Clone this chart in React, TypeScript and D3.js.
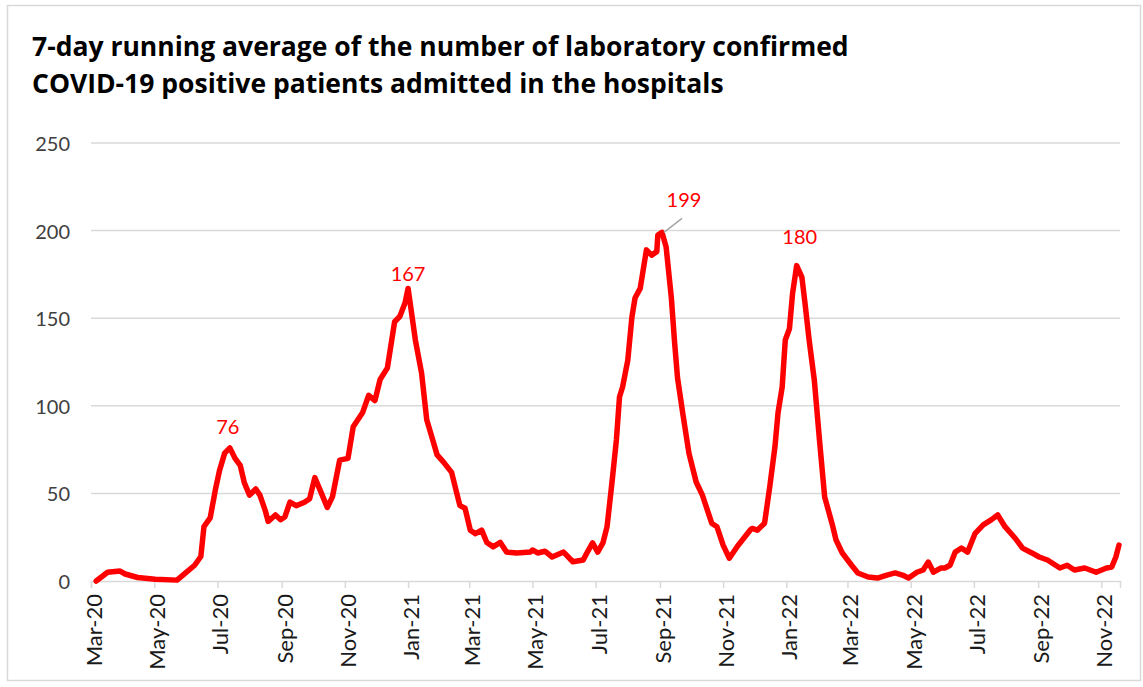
import { useEffect, useRef } from "react"
import * as d3 from "d3"

// 7-day running average
const admissions: Array<[string, number]> = [
  ["2020-03-06", 0], ["2020-03-17", 5], ["2020-03-29", 5.7], ["2020-04-03", 4],
  ["2020-04-15", 2], ["2020-05-02", 1], ["2020-05-23", 0.5], ["2020-05-31", 4.5],
  ["2020-06-09", 9], ["2020-06-15", 14], ["2020-06-18", 31], ["2020-06-24", 36],
  ["2020-06-29", 52], ["2020-07-03", 63], ["2020-07-08", 73], ["2020-07-13", 76],
  ["2020-07-18", 70], ["2020-07-23", 66], ["2020-07-27", 56], ["2020-08-01", 49],
  ["2020-08-07", 52.5], ["2020-08-11", 49], ["2020-08-16", 40.5], ["2020-08-19", 34],
  ["2020-08-26", 37.7], ["2020-08-31", 35], ["2020-09-04", 36.5], ["2020-09-09", 45],
  ["2020-09-15", 43], ["2020-09-23", 45], ["2020-09-28", 47], ["2020-10-03", 59],
  ["2020-10-08", 52], ["2020-10-15", 42], ["2020-10-20", 48], ["2020-10-27", 69],
  ["2020-11-04", 70], ["2020-11-09", 88], ["2020-11-18", 96], ["2020-11-24", 106],
  ["2020-11-30", 103], ["2020-12-05", 115], ["2020-12-12", 121.6], ["2020-12-19", 148],
  ["2020-12-24", 151], ["2020-12-29", 158.7], ["2021-01-01", 167], ["2021-01-08", 137.6],
  ["2021-01-14", 118.7], ["2021-01-19", 92], ["2021-01-24", 82], ["2021-01-29", 72],
  ["2021-02-04", 68], ["2021-02-12", 62], ["2021-02-17", 50], ["2021-02-20", 43],
  ["2021-02-25", 41.5], ["2021-03-02", 29], ["2021-03-07", 27], ["2021-03-13", 29],
  ["2021-03-18", 22], ["2021-03-24", 19.5], ["2021-03-31", 22], ["2021-04-06", 16.5],
  ["2021-04-16", 16], ["2021-04-29", 16.5], ["2021-05-01", 17.7], ["2021-05-06", 16],
  ["2021-05-13", 17], ["2021-05-20", 13.7], ["2021-05-31", 16.5], ["2021-06-09", 11],
  ["2021-06-19", 12], ["2021-06-23", 16.5], ["2021-06-28", 21.7], ["2021-07-03", 16.5],
  ["2021-07-08", 21.7], ["2021-07-12", 31], ["2021-07-17", 57.6], ["2021-07-21", 80.5],
  ["2021-07-24", 105], ["2021-07-27", 110.7], ["2021-08-01", 126], ["2021-08-05", 150.7],
  ["2021-08-08", 161.5], ["2021-08-13", 167], ["2021-08-19", 189], ["2021-08-24", 186],
  ["2021-08-29", 188], ["2021-08-30", 197.5], ["2021-09-03", 199], ["2021-09-07", 190.6],
  ["2021-09-12", 162], ["2021-09-15", 137.5], ["2021-09-18", 116], ["2021-09-23", 96],
  ["2021-09-29", 73], ["2021-10-06", 56.5], ["2021-10-12", 49], ["2021-10-21", 33],
  ["2021-10-26", 31], ["2021-11-01", 20.5], ["2021-11-07", 13], ["2021-11-15", 20],
  ["2021-11-27", 29], ["2021-11-29", 30], ["2021-12-04", 29], ["2021-12-11", 33],
  ["2021-12-16", 53.7], ["2021-12-21", 76.5], ["2021-12-24", 96], ["2021-12-28", 110.7],
  ["2021-12-31", 137.6], ["2022-01-04", 144], ["2022-01-07", 164], ["2022-01-11", 180],
  ["2022-01-16", 173.5], ["2022-01-19", 158.7], ["2022-01-23", 137.6], ["2022-01-28", 114.7],
  ["2022-02-02", 80.5], ["2022-02-07", 48], ["2022-02-14", 33], ["2022-02-18", 23.4],
  ["2022-02-24", 16], ["2022-03-05", 9], ["2022-03-11", 4.6], ["2022-03-21", 2.3],
  ["2022-03-30", 1.7], ["2022-04-08", 3.4], ["2022-04-16", 4.6], ["2022-04-23", 3.4],
  ["2022-04-29", 1.7], ["2022-05-07", 5], ["2022-05-13", 6.3], ["2022-05-18", 10.8],
  ["2022-05-23", 5], ["2022-05-30", 7.4], ["2022-06-03", 7.4], ["2022-06-08", 9],
  ["2022-06-13", 16.5], ["2022-06-19", 18.8], ["2022-06-25", 16.5], ["2022-07-02", 27],
  ["2022-07-10", 32], ["2022-07-18", 35], ["2022-07-24", 37.7], ["2022-07-31", 31],
  ["2022-08-09", 25], ["2022-08-17", 18.8], ["2022-08-26", 16], ["2022-09-02", 13.7],
  ["2022-09-10", 12], ["2022-09-22", 7.4], ["2022-09-29", 9], ["2022-10-06", 6.3],
  ["2022-10-16", 7.4], ["2022-10-27", 5], ["2022-11-06", 7.4], ["2022-11-11", 8],
  ["2022-11-15", 13.7], ["2022-11-18", 20.5],
]

// peak annotations: date of peak and the printed value
const peaks: Array<[string, string]> = [
  ["2020-07-13", "76"],
  ["2021-01-01", "167"],
  ["2021-09-03", "199"],
  ["2022-01-11", "180"],
]

const yTicks = [0, 50, 100, 150, 200, 250]
const xStart = "2020-03-01"
const xEnd = "2022-11-19"

const titleLines = [
  "7-day running average of the number of laboratory confirmed",
  "COVID-19 positive patients admitted in the hospitals",
]

export default function App() {
  const svgRef = useRef<SVGSVGElement>(null)

  useEffect(() => {
    document.body.style.margin = "0"
    if (!svgRef.current) return

    const svg = d3.select(svgRef.current)
    svg.selectAll("*").remove()

    const width = 1143
    const height = 687
    const font = "Lato, 'Open Sans', sans-serif"
    const parse = d3.timeParse("%Y-%m-%d")

    svg.attr("width", width).attr("height", height)

    // chart frame
    svg.append("rect")
      .attr("x", 7.5).attr("y", 5.5)
      .attr("width", 1133).attr("height", 675)
      .style("fill", "white")
      .style("stroke", "#d9d9d9")
      .style("stroke-width", 1.5)

    // title
    svg.append("text")
      .style("font-family", "'Open Sans', Lato, sans-serif")
      .style("font-weight", "700")
      .style("font-size", "26.5px")
      .style("fill", "#000")
      .selectAll("tspan")
      .data(titleLines)
      .join("tspan")
      .attr("x", 32)
      .attr("y", (d, i) => 56 + i * 37)
      .text(d => d)

    const x = d3.scaleTime()
      .domain([parse(xStart)!, parse(xEnd)!])
      .range([91, 1120])
    const y = d3.scaleLinear().domain([0, 250]).range([581, 143])

    // gridlines
    svg.append("g")
      .selectAll("line")
      .data(yTicks.filter(t => t > 0))
      .join("line")
      .attr("x1", 91).attr("x2", 1120)
      .attr("y1", d => y(d)).attr("y2", d => y(d))
      .style("stroke", "#d9d9d9")
      .style("stroke-width", 1.5)

    // y labels
    svg.append("g")
      .selectAll("text")
      .data(yTicks)
      .join("text")
      .attr("x", 70)
      .attr("y", d => y(d))
      .attr("text-anchor", "end")
      .attr("dominant-baseline", "central")
      .style("font-family", font)
      .style("font-size", "20px")
      .style("fill", "#404040")
      .text(d => d)

    // x axis
    const xAxis = d3.axisBottom(x)
      .ticks(d3.timeMonth.every(2))
      .tickSize(7)
      .tickFormat(d => d3.timeFormat("%b-%y")(d as Date))

    const gx = svg.append("g").attr("transform", `translate(0, ${y(0)})`).call(xAxis)
    gx.select(".domain").style("stroke", "#d9d9d9").style("stroke-width", 1.5)
    gx.selectAll(".tick line").style("stroke", "#d9d9d9").style("stroke-width", 1.5)
    gx.selectAll(".tick text")
      .attr("transform", "rotate(-90)")
      .attr("x", -13)
      .attr("y", 2)
      .attr("dy", 0)
      .attr("text-anchor", "end")
      .attr("dominant-baseline", "central")
      .style("font-family", font)
      .style("font-size", "22px")
      .style("fill", "#1a1a1a")

    // series
    const line = d3.line<[string, number]>()
      .x(d => x(parse(d[0])!))
      .y(d => y(d[1]))

    svg.append("path")
      .datum(admissions)
      .attr("d", line)
      .style("fill", "none")
      .style("stroke", "#ff0000")
      .style("stroke-width", 5.5)
      .style("stroke-linejoin", "round")
      .style("stroke-linecap", "round")

    // peak labels
    const labelOffsets: Record<string, [number, number]> = {
      "76": [-2, -22],
      "167": [0, -15],
      "199": [22, -33],
      "180": [3, -30],
    }

    peaks.forEach(([date, label]) => {
      const px = x(parse(date)!)
      const value = admissions.find(d => d[0] === date)![1]
      const py = y(value)
      const [dx, dy] = labelOffsets[label]

      if (label === "199") {
        svg.append("line")
          .attr("x1", px + 2).attr("y1", py)
          .attr("x2", px + 20).attr("y2", py - 14)
          .style("stroke", "#a6a6a6")
          .style("stroke-width", 1.5)
      }

      svg.append("text")
        .attr("x", px + dx)
        .attr("y", py + dy)
        .attr("text-anchor", "middle")
        .attr("dominant-baseline", "central")
        .style("font-family", font)
        .style("font-size", "20px")
        .style("fill", "#ff0000")
        .text(label)
    })
  }, [])

  return <svg ref={svgRef} style={{ display: "block" }} />
}
